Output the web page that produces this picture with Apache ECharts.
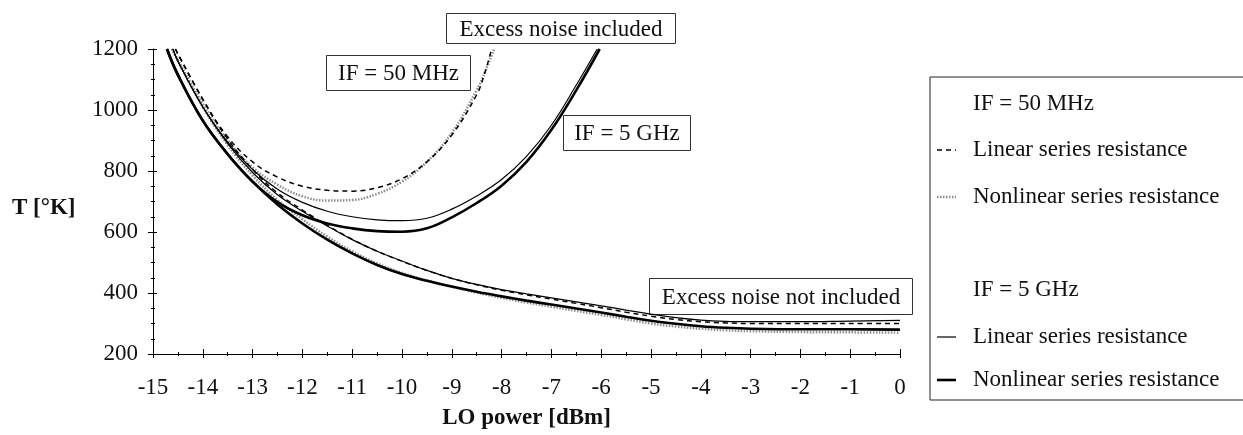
<!DOCTYPE html>
<html>
<head>
<meta charset="utf-8">
<title>Noise temperature vs LO power</title>
<script src="https://cdn.jsdelivr.net/npm/echarts/dist/echarts.min.js"></script>
<style>
    html, body { margin: 0; padding: 0; background: #fff; }
    #chart { width: 1243px; height: 435px; }
</style>
</head>
<body>
<div id="chart"></div>
<script>
// x axis: LO power [dBm], y axis: T [°K]
var xTicks = [-15, -14, -13, -12, -11, -10, -9, -8, -7, -6, -5, -4, -3, -2, -1, 0];
var yTicks = [200, 400, 600, 800, 1000, 1200];

// excess noise included
var if50LinearInc = [[-14.55,1200],[-14,1035],[-13.5,912],[-13,830],[-12.5,780],[-12,750],[-11.5,737],[-11,734],[-10.5,745],[-10,775],[-9.5,830],[-9,918],[-8.5,1050],[-8.35,1115],[-8.2,1200]];
var if50NonlinearInc = [[-14.62,1200],[-14,1020],[-13.5,900],[-13,812],[-12.5,755],[-12,717],[-11.5,703],[-11,705],[-10.5,725],[-10,765],[-9.5,830],[-9,925],[-8.5,1065],[-8.32,1130],[-8.15,1200]];
var if5gLinearInc = [[-14.6,1200],[-14.5,1160],[-14,1010],[-13.5,895],[-13,805],[-12.5,740],[-12,697],[-11.5,668],[-11,650],[-10.5,640],[-10,637],[-9.5,645],[-9,675],[-8.5,718],[-8,772],[-7.5,848],[-7,950],[-6.5,1082],[-6.08,1200]];
var if5gNonlinearInc = [[-14.72,1200],[-14.5,1115],[-14,965],[-13.5,855],[-13,765],[-12.5,698],[-12,655],[-11.5,628],[-11,612],[-10.5,603],[-10,601],[-9.5,612],[-9,648],[-8.5,695],[-8,752],[-7.5,830],[-7,935],[-6.5,1065],[-6.03,1200]];

// excess noise not included
var if50LinearNo = [[-14.55,1200],[-14,1035],[-13.5,905],[-13,805],[-12.5,728],[-12,672],[-11.5,622],[-11,576],[-10.5,537],[-10,504],[-9.5,474],[-9,448],[-8.5,427],[-8,409],[-7.5,394],[-7,380],[-6.5,366],[-6,352],[-5.5,337],[-5,324],[-4.5,313],[-4,306],[-3.5,302],[-3,300],[-2,300],[-1,300],[0,300]];
var if50NonlinearNo = [[-14.62,1200],[-14,1010],[-13.5,885],[-13,785],[-12.5,705],[-12,642],[-11.5,585],[-11,537],[-10.5,497],[-10,466],[-9.5,441],[-9,420],[-8.5,401],[-8,384],[-7.5,369],[-7,355],[-6.5,341],[-6,328],[-5.5,314],[-5,300],[-4.5,290],[-4,283],[-3.5,278],[-3,275],[-2,272],[-1,271],[0,270]];
var if5gLinearNo = [[-14.6,1200],[-14.5,1160],[-14,1010],[-13.5,890],[-13,795],[-12.5,722],[-12,668],[-11.5,620],[-11,575],[-10.5,537],[-10,505],[-9.5,474],[-9,448],[-8.5,428],[-8,411],[-7.5,397],[-7,384],[-6.5,371],[-6,358],[-5.5,344],[-5,331],[-4.5,319],[-4,311],[-3.5,307],[-3,306],[-2,306],[-1,308],[0,310]];
var if5gNonlinearNo = [[-14.72,1200],[-14.5,1115],[-14,965],[-13.5,855],[-13,765],[-12.5,690],[-12,628],[-11.5,575],[-11,530],[-10.5,492],[-10,462],[-9.5,440],[-9,421],[-8.5,404],[-8,389],[-7.5,375],[-7,362],[-6.5,349],[-6,336],[-5.5,322],[-5,309],[-4.5,299],[-4,291],[-3.5,286],[-3,283],[-2,281],[-1,281],[0,280]];

var serif = '"Liberation Serif", "Times New Roman", serif';
var fs = 23;

var dashStyle = { color: '#000', width: 1.5, type: [5, 4] };
var dotStyle = { color: '#8c8c8c', width: 2.5, type: [1.5, 1.5] };
var thinStyle = { color: '#000', width: 1.2 };
var thickStyle = { color: '#000', width: 2.6 };

function line(name, data, style) {
    return {
        name: name,
        type: 'line',
        data: data,
        showSymbol: false,
        symbol: 'none',
        smooth: 0.4,
        lineStyle: style
    };
}

// boxed labels on the plot
function boxLabel(x, y, w, h, txt) {
    return {
        type: 'group',
        left: x,
        top: y,
        children: [
            { type: 'rect', shape: { x: 0, y: 0, width: w, height: h }, style: { fill: '#fff', stroke: '#333', lineWidth: 1 } },
            { type: 'text', x: w / 2, y: h / 2 + 1, style: { text: txt, font: fs + 'px ' + serif, fill: '#111', align: 'center', verticalAlign: 'middle' } }
        ]
    };
}

function legendText(x, y, txt) {
    return { type: 'text', x: x, y: y, style: { text: txt, font: fs + 'px ' + serif, fill: '#111', verticalAlign: 'middle' } };
}

function legendLine(y, style) {
    var s = { stroke: style.color, lineWidth: style.width };
    if (style.type) s.lineDash = style.type;
    return { type: 'line', shape: { x1: 937, y1: y, x2: 956, y2: y }, style: s };
}

var myChart = echarts.init(document.getElementById('chart'));

var option = {
    animation: false,
    backgroundColor: '#fff',
    grid: { left: 153, right: 343, top: 49, bottom: 73 },
    xAxis: [
        {
            type: 'value',
            min: -15, max: 0, interval: 1,
            name: 'LO power [dBm]',
            nameLocation: 'middle',
            nameGap: 53,
            nameTextStyle: { fontFamily: serif, fontSize: fs, fontWeight: 'bold', color: '#111' },
            axisLine: { onZero: false, lineStyle: { color: '#000', width: 1.2 } },
            axisTick: { length: 4, lineStyle: { color: '#000' } },
            minorTick: { show: true, splitNumber: 2, length: 2, lineStyle: { color: '#000' } },
            axisLabel: {
                margin: 22, fontFamily: serif, fontSize: fs, color: '#111',
                formatter: function (v) { return xTicks.indexOf(v) >= 0 ? String(v) : ''; }
            },
            splitLine: { show: false }
        },
        {
            // inner half of the crossing ticks
            type: 'value', position: 'bottom',
            min: -15, max: 0, interval: 1,
            axisLine: { show: false, onZero: false },
            axisTick: { inside: true, length: 5, lineStyle: { color: '#000' } },
            minorTick: { show: true, splitNumber: 2, length: 2, lineStyle: { color: '#000' } },
            axisLabel: { show: false },
            splitLine: { show: false }
        }
    ],
    yAxis: [
        {
            type: 'value',
            min: 200, max: 1200, interval: 200,
            axisLine: { show: true, onZero: false, lineStyle: { color: '#000', width: 1 } },
            axisTick: { show: true, length: 5, lineStyle: { color: '#000' } },
            minorTick: { show: true, splitNumber: 4, length: 2, lineStyle: { color: '#000' } },
            axisLabel: {
                margin: 15, fontFamily: serif, fontSize: fs, color: '#111',
                formatter: function (v) { return yTicks.indexOf(v) >= 0 ? String(v) : ''; }
            },
            splitLine: { show: false }
        },
        {
            type: 'value', position: 'left',
            min: 200, max: 1200, interval: 200,
            axisLine: { show: false, onZero: false },
            axisTick: { show: true, inside: true, length: 4, lineStyle: { color: '#000' } },
            minorTick: { show: true, splitNumber: 4, length: 2, lineStyle: { color: '#000' } },
            axisLabel: { show: false },
            splitLine: { show: false }
        }
    ],
    series: [
        line('IF 50 MHz nonlinear (excess noise)', if50NonlinearInc, dotStyle),
        line('IF 50 MHz nonlinear', if50NonlinearNo, dotStyle),
        line('IF 50 MHz linear (excess noise)', if50LinearInc, dashStyle),
        line('IF 50 MHz linear', if50LinearNo, dashStyle),
        line('IF 5 GHz linear (excess noise)', if5gLinearInc, thinStyle),
        line('IF 5 GHz linear', if5gLinearNo, thinStyle),
        line('IF 5 GHz nonlinear (excess noise)', if5gNonlinearInc, thickStyle),
        line('IF 5 GHz nonlinear', if5gNonlinearNo, thickStyle)
    ],
    graphic: [
        { type: 'text', left: 12, top: 197, style: { text: 'T [°K]', font: 'bold ' + fs + 'px ' + serif, fill: '#111' } },
        boxLabel(446, 13, 229, 30, 'Excess noise included'),
        boxLabel(326, 55, 144, 35, 'IF = 50 MHz'),
        boxLabel(563, 115, 127, 35, 'IF = 5 GHz'),
        boxLabel(649, 278, 263, 36, 'Excess noise not included'),
        // legend box
        { type: 'rect', shape: { x: 930, y: 77, width: 400, height: 323 }, style: { fill: 'none', stroke: '#222', lineWidth: 1 } },
        legendText(973, 104, 'IF = 50 MHz'),
        legendLine(150, dashStyle),
        legendText(973, 150, 'Linear series resistance'),
        legendLine(197, dotStyle),
        legendText(973, 197, 'Nonlinear series resistance'),
        legendText(973, 290, 'IF = 5 GHz'),
        legendLine(337, thinStyle),
        legendText(973, 337, 'Linear series resistance'),
        legendLine(380, thickStyle),
        legendText(973, 380, 'Nonlinear series resistance')
    ]
};

myChart.setOption(option);
</script>
</body>
</html>
